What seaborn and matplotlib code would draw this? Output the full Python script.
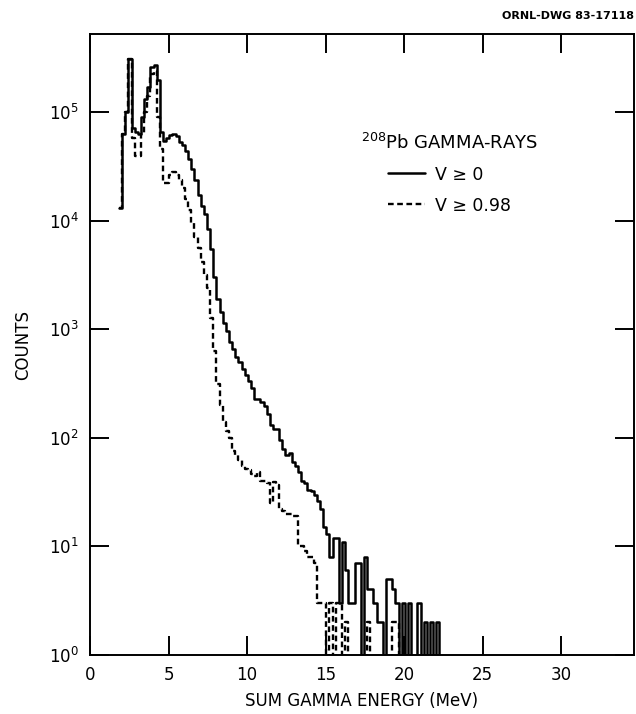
import numpy as np
import pandas as pd
import matplotlib
matplotlib.use("Agg")
import matplotlib.pyplot as plt
import seaborn as sns

# Sum-gamma-energy spectra for 208Pb, 0.2 MeV bins
bin_width = 0.2
first_edge = 1.85

counts_v0 = [
    13200, 63000, 100000, 309000, 72000, 66000, 63000, 91000, 132000, 170000,
    263000, 275000, 200000, 66000, 55000, 57500, 61700, 63000, 60300, 53700,
    50100, 43600, 37200, 30200, 24000, 17400, 13800, 11500, 8500, 5500,
    3020, 1900, 1450, 1150, 955, 760, 660, 560, 500, 427,
    380, 331, 288, 229, 229, 214, 195, 166, 132, 120,
    120, 95, 79, 69, 72, 60, 55, 48, 40, 38,
    33, 32, 30, 26, 22, 15, 13, 8, 12, 12,
    3, 11, 6, 3, 3, 7, 7, 0, 8, 4,
    4, 3, 2, 2, 0, 5, 5, 4, 3, 0,
    3, 0, 3, 0, 0, 3, 0, 2, 0, 2,
    0, 2,
]

counts_v098 = [
    13200, 63000, 100000, 309000, 57500, 40000, 40000, 63000, 100000, 141000,
    224000, 240000, 91000, 45700, 22400, 22400, 26300, 28200, 26300, 24000,
    20000, 15800, 12600, 9500, 7100, 5600, 4200, 3200, 2400, 1260,
    630, 316, 200, 141, 115, 100, 76, 69, 63, 55,
    52, 50, 46, 44, 48, 40, 40, 38, 25, 39,
    37, 22, 21, 20, 20, 19, 19, 10, 10, 9,
    8, 8, 7, 3, 3, 3, 0, 3, 0, 3,
    3, 0, 2, 0, 0, 0, 0, 0, 0, 2,
    0, 0, 0, 0, 0, 0, 0, 2, 2, 0,
    0, 0, 0, 0, 0, 0, 0, 0, 0, 0,
    0, 0,
]

x_ticks = [0, 5, 10, 15, 20, 25, 30]
x_labels = ["0", "5", "10", "15", "20", "25", "30"]


def step_frame(counts):
    edges = first_edge + bin_width * np.arange(len(counts) + 1)
    return pd.DataFrame({"energy": edges, "counts": list(counts) + [0]})


sns.set_style("ticks")
plt.rcParams["font.family"] = ["DejaVu Sans"]
plt.rcParams["mathtext.fontset"] = "dejavusans"
plt.rcParams["text.color"] = "black"
plt.rcParams["axes.labelcolor"] = "black"
plt.rcParams["xtick.color"] = "black"
plt.rcParams["ytick.color"] = "black"

fig = plt.figure(figsize=(6.36, 7.14), dpi=100)
ax = fig.add_axes([0.1415, 0.083, 0.8555, 0.869])

sns.lineplot(data=step_frame(counts_v0), x="energy", y="counts", ax=ax,
             drawstyle="steps-post", color="black", lw=1.8,
             estimator=None, label="V \u2265 0")
sns.lineplot(data=step_frame(counts_v098), x="energy", y="counts", ax=ax,
             drawstyle="steps-post", color="black", lw=1.7,
             linestyle=(0, (2.4, 1.5)), estimator=None,
             label="V \u2265 0.98")

ax.set_yscale("log")
ax.set_xlim(0, 34.65)
ax.set_ylim(1, 5.25e5)
ax.set_xticks(x_ticks)
ax.set_xticklabels(x_labels)
ax.set_yticks([1e0, 1e1, 1e2, 1e3, 1e4, 1e5])
ax.yaxis.set_minor_locator(matplotlib.ticker.NullLocator())

ax.tick_params(axis="both", which="major", direction="in", length=14,
               width=1.4, labelsize=12, pad=8,
               top=True, right=True, colors="black")
for sp in ax.spines.values():
    sp.set_linewidth(1.4)
    sp.set_color("black")

ax.set_xlabel("SUM GAMMA ENERGY (MeV)", fontsize=12, labelpad=6)
ax.set_ylabel("COUNTS", fontsize=12, labelpad=12)

leg = ax.legend(title="$^{208}$Pb GAMMA-RAYS", frameon=False,
                loc="upper left", bbox_to_anchor=(0.47, 0.867),
                fontsize=12.5, title_fontsize=13, handlelength=2.1,
                handletextpad=0.6, labelspacing=0.75)
plt.setp(leg.get_title(), color="black")
for t in leg.get_texts():
    t.set_color("black")

fig.text(0.997, 0.977, "ORNL-DWG 83-17118", ha="right", va="center",
         fontsize=8, fontweight="bold")

fig.savefig("out.png", dpi=100, facecolor="white")
